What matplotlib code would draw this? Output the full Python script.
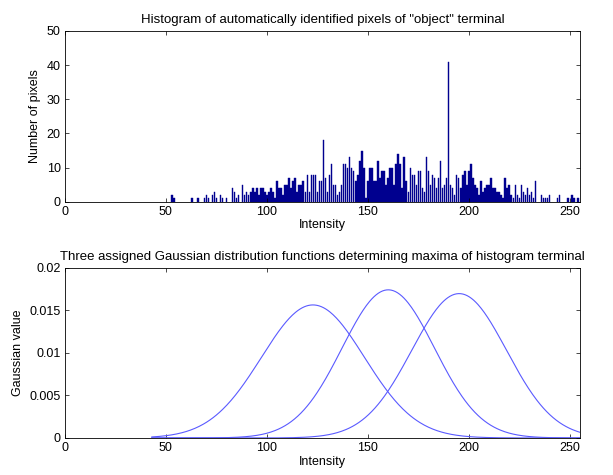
import numpy as np
import matplotlib
matplotlib.use('Agg')
import matplotlib.pyplot as plt

plt.rcParams['font.family'] = ['Liberation Sans', 'DejaVu Sans']

# histogram bins (intensity) that have pixels, and their counts
intensity = [53, 54, 63, 66, 69, 70, 71, 73, 74, 75, 77, 78, 80, 83, 84, 85, 86, 88, 89, 90,
             91, 92, 93, 94, 95, 96, 97, 98, 99, 100, 101, 102, 103, 104, 105, 106, 107, 108, 109, 110,
             111, 112, 113, 114, 115, 116, 117, 118, 119, 120, 121, 122, 123, 124, 125, 126, 127, 128, 129, 130,
             131, 132, 133, 134, 135, 136, 137, 138, 139, 140, 141, 142, 143, 144, 145, 146, 147, 148, 149, 150,
             151, 152, 153, 154, 155, 156, 157, 158, 159, 160, 161, 162, 163, 164, 165, 166, 167, 168, 169, 170,
             171, 172, 173, 174, 175, 176, 177, 178, 179, 180, 181, 182, 183, 184, 185, 186, 187, 188, 189, 190,
             191, 192, 193, 194, 195, 196, 197, 198, 199, 200, 201, 202, 203, 204, 205, 206, 207, 208, 209, 210,
             211, 212, 213, 214, 215, 216, 217, 218, 219, 220, 221, 222, 223, 224, 225, 226, 227, 228, 229, 230,
             231, 232, 233, 236, 237, 238, 239, 240, 244, 245, 249, 251, 252, 254]
pixel_count = [2, 1, 1, 1, 1, 2, 1, 2, 3, 1, 2, 1, 1, 4, 3, 1, 2, 5, 2, 3,
               2, 3, 4, 3, 4, 2, 4, 4, 3, 2, 3, 4, 3, 1, 6, 4, 4, 2, 5, 5,
               7, 4, 6, 7, 3, 5, 5, 6, 3, 8, 3, 8, 8, 8, 3, 6, 6, 18, 7, 3,
               8, 11, 5, 5, 2, 3, 5, 11, 11, 10, 13, 10, 9, 6, 8, 12, 15, 10, 1, 6,
               10, 10, 6, 6, 12, 7, 9, 9, 5, 7, 10, 10, 5, 11, 14, 11, 4, 13, 6, 3,
               10, 8, 8, 5, 9, 9, 4, 3, 13, 9, 5, 8, 7, 4, 7, 12, 4, 5, 7, 41,
               5, 4, 2, 8, 7, 4, 8, 9, 5, 9, 11, 7, 5, 4, 2, 6, 3, 4, 5, 5,
               7, 4, 4, 3, 3, 2, 1, 7, 4, 5, 2, 1, 5, 2, 1, 5, 3, 2, 4, 2,
               3, 1, 6, 2, 1, 1, 1, 2, 1, 2, 1, 2, 1, 1]

# the three fitted gaussians (mean, std)
gauss_mean = [122.8, 160.1, 195.2]
gauss_std = [25.5, 22.9, 23.5]
gauss_range = [43, 255]

fig = plt.figure(figsize=(6.13, 4.75), dpi=100)
ax1 = fig.add_axes([0.106, 0.575, 0.840, 0.360])
ax2 = fig.add_axes([0.106, 0.078, 0.840, 0.358])

ax1.bar(intensity, pixel_count, width=0.75, color='#00008f', edgecolor='#00008f', linewidth=0.3)
ax1.set_xlim(0, 255)
ax1.set_ylim(0, 50)
ax1.set_xticks(range(0, 251, 50))
ax1.set_yticks(range(0, 51, 10))
ax1.set_title('Histogram of automatically identified pixels of "object" terminal', fontsize=9.5, pad=6)
ax1.set_xlabel('Intensity', fontsize=9, labelpad=1)
ax1.set_ylabel('Number of pixels', fontsize=9, labelpad=4)

x = np.linspace(gauss_range[0], gauss_range[1], 400)
for m, s in zip(gauss_mean, gauss_std):
    y = np.exp(-0.5 * ((x - m) / s) ** 2) / (s * np.sqrt(2 * np.pi))
    ax2.plot(x, y, color='#5a5aff', linewidth=0.8)
ax2.set_xlim(0, 255)
ax2.set_ylim(0, 0.02)
ax2.set_xticks(range(0, 251, 50))
ax2.set_yticks([0, 0.005, 0.01, 0.015, 0.02])
ax2.set_yticklabels(['0', '0.005', '0.01', '0.015', '0.02'])
ax2.set_title('Three assigned Gaussian distribution functions determining maxima of histogram terminal',
              fontsize=9.5, pad=6)
ax2.set_xlabel('Intensity', fontsize=9, labelpad=1)
ax2.set_ylabel('Gaussian value', fontsize=9, labelpad=4)

for ax in (ax1, ax2):
    ax.tick_params(direction='in', top=True, right=True, length=3, width=0.5, labelsize=9, pad=3)
    for sp in ax.spines.values():
        sp.set_linewidth(0.6)

fig.savefig('out.png', dpi=100)
